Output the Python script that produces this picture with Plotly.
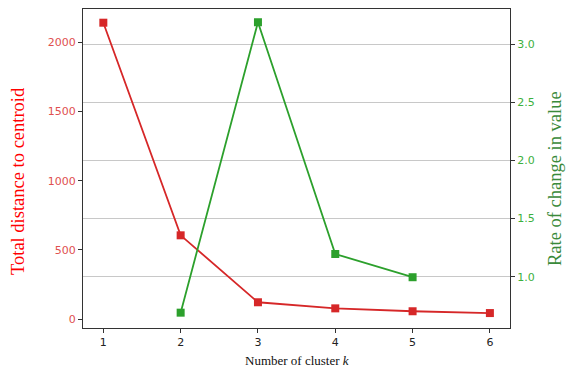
import plotly.graph_objects as go

k = [1, 2, 3, 4, 5, 6]
distance = [2142, 605, 121, 77, 56, 43]
k_rate = [2, 3, 4, 5]
rate = [0.69, 3.19, 1.195, 0.995]

RED = "#d62728"
GREEN = "#2ca02c"

fig = go.Figure()
fig.add_trace(go.Scatter(x=k, y=distance, mode="lines+markers",
                         line=dict(color=RED, width=1.8),
                         marker=dict(symbol="square", size=8, color=RED),
                         yaxis="y"))
fig.add_trace(go.Scatter(x=k_rate, y=rate, mode="lines+markers",
                         line=dict(color=GREEN, width=1.8),
                         marker=dict(symbol="square", size=8, color=GREEN),
                         yaxis="y2"))

L, R, T, B = 83, 56, 9, 44
W, H = 566, 372
pw, ph = W - L - R, H - T - B

fig.update_layout(
    width=W, height=H,
    margin=dict(l=L, r=R, t=T, b=B, autoexpand=False),
    paper_bgcolor="white", plot_bgcolor="white",
    showlegend=False,
    xaxis=dict(range=[0.737, 6.26], tickvals=k, ticks="outside", ticklen=4,
               tickcolor="#333", showgrid=False, zeroline=False, automargin=False,
               showline=True, linecolor="#333", linewidth=1.2, mirror=True,
               tickfont=dict(family="DejaVu Sans", size=11, color="#222")),
    yaxis=dict(range=[-65, 2241], tickvals=[0, 500, 1000, 1500, 2000],
               ticks="outside", ticklen=4, tickcolor="#333", automargin=False,
               showgrid=False, zeroline=False,
               showline=True, linecolor="#333", linewidth=1.2,
               tickfont=dict(family="DejaVu Sans", size=11, color="#e05050")),
    yaxis2=dict(range=[0.558, 3.304], tickvals=[1.0, 1.5, 2.0, 2.5, 3.0],
                ticktext=["1.0", "1.5", "2.0", "2.5", "3.0"], automargin=False,
                overlaying="y", side="right", ticks="outside", ticklen=4,
                tickcolor="#333", showgrid=True, gridcolor="#c8c8c8", gridwidth=1.2,
                zeroline=False, showline=True, linecolor="#333", linewidth=1.2,
                tickfont=dict(family="DejaVu Sans", size=11, color="#3cb03c")),
    annotations=[
        dict(text="Number of cluster <i>k</i>", xref="paper", yref="paper",
             x=0.5, y=(H - 360 - B) / ph, xanchor="center", yanchor="middle",
             showarrow=False,
             font=dict(family="Liberation Serif", size=13, color="#111")),
        dict(text="Total distance to centroid", xref="paper", yref="paper",
             x=(18 - L) / pw, y=(H - B - 181) / ph, xanchor="center", yanchor="middle",
             textangle=-90, showarrow=False,
             font=dict(family="Liberation Serif", size=18.5, color="#ff0000")),
        dict(text="Rate of change in value", xref="paper", yref="paper",
             x=(555 - L) / pw, y=(H - B - 179) / ph, xanchor="center", yanchor="middle",
             textangle=-90, showarrow=False,
             font=dict(family="Liberation Serif", size=18.5, color="#3a8a3a")),
    ],
)

fig.write_html("out.html", config={"displayModeBar": False},
               post_script="document.body.style.margin='0';document.body.style.overflow='hidden';")
